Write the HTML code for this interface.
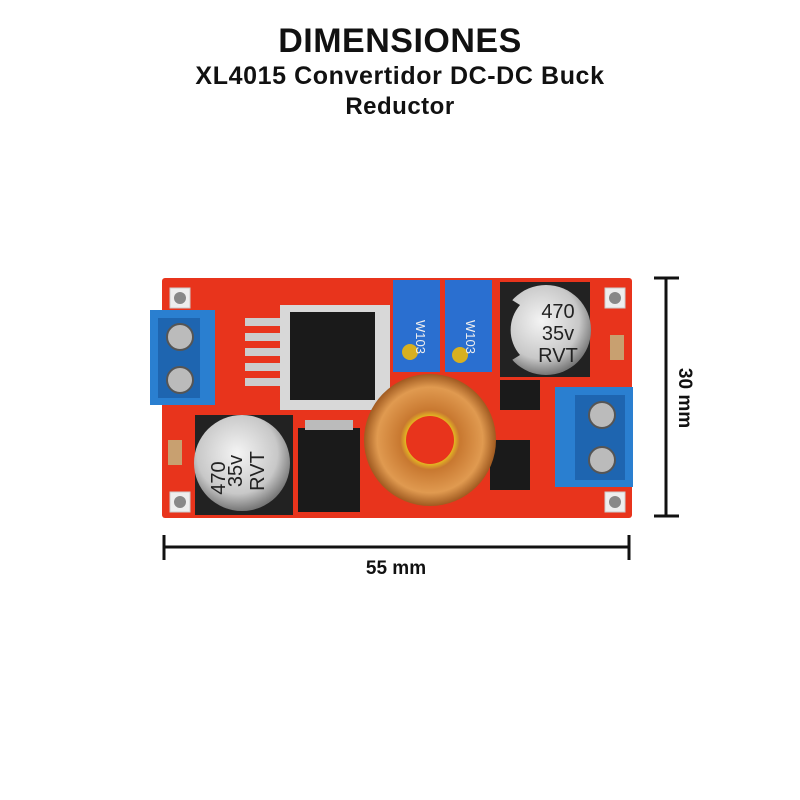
<!DOCTYPE html>
<html><head><style>
body{margin:0;width:800px;height:800px;background:#fff;position:relative;overflow:hidden;font-family:"Liberation Sans",sans-serif}
.t{position:absolute;left:0;width:800px;text-align:center;font-weight:bold;color:#111}
</style></head><body>
<div class="t" style="top:22px;font-size:34px;letter-spacing:0.5px">DIMENSIONES</div>
<div class="t" style="top:62px;font-size:25px;letter-spacing:0.6px">XL4015 Convertidor DC-DC Buck</div>
<div class="t" style="top:93px;font-size:24px;letter-spacing:0.5px">Reductor</div>
<svg width="800" height="800" style="position:absolute;left:0;top:0">
<defs>
<radialGradient id="cap" cx="45%" cy="40%" r="60%"><stop offset="0" stop-color="#f4f4f4"/><stop offset="0.7" stop-color="#c8c8c8"/><stop offset="1" stop-color="#777"/></radialGradient>
<radialGradient id="tor" cx="50%" cy="50%" r="50%"><stop offset="0.35" stop-color="#e8c020"/><stop offset="0.45" stop-color="#c87830"/><stop offset="0.8" stop-color="#e09a50"/><stop offset="1" stop-color="#a05a20"/></radialGradient>
</defs>
<rect x="162" y="278" width="470" height="240" fill="#e8341c" rx="3"/>
<g fill="#eee" stroke="#ccc"><rect x="170" y="288" width="20" height="20"/><rect x="605" y="288" width="20" height="20"/><rect x="170" y="492" width="20" height="20"/><rect x="605" y="492" width="20" height="20"/></g>
<g fill="#888"><circle cx="180" cy="298" r="6"/><circle cx="615" cy="298" r="6"/><circle cx="180" cy="502" r="6"/><circle cx="615" cy="502" r="6"/></g>
<rect x="150" y="310" width="65" height="95" fill="#2a7fd0"/>
<rect x="158" y="318" width="42" height="80" fill="#1e65b0"/>
<circle cx="180" cy="337" r="13" fill="#bbb" stroke="#555" stroke-width="2"/>
<circle cx="180" cy="380" r="13" fill="#bbb" stroke="#555" stroke-width="2"/>
<g fill="#ccc"><rect x="245" y="318" width="45" height="8"/><rect x="245" y="333" width="45" height="8"/><rect x="245" y="348" width="45" height="8"/><rect x="245" y="363" width="45" height="8"/><rect x="245" y="378" width="45" height="8"/></g>
<rect x="280" y="305" width="110" height="105" fill="#d8d8d8"/>
<rect x="290" y="312" width="85" height="88" fill="#1a1a1a"/>
<rect x="393" y="280" width="47" height="92" fill="#2a6fd0"/>
<rect x="445" y="280" width="47" height="92" fill="#2a6fd0"/>
<circle cx="410" cy="352" r="8" fill="#d8b020"/><circle cx="460" cy="355" r="8" fill="#d8b020"/>
<text x="416" y="320" font-size="13" fill="#eee" transform="rotate(90 416 320)">W103</text>
<text x="466" y="320" font-size="13" fill="#eee" transform="rotate(90 466 320)">W103</text>
<rect x="500" y="282" width="90" height="95" fill="#222"/>
<circle cx="546" cy="330" r="45" fill="url(#cap)"/>
<path d="M512 300 A45 45 0 0 0 512 360 L520 355 A38 38 0 0 1 520 305Z" fill="#222"/>
<text x="558" y="318" font-size="20" text-anchor="middle" fill="#222">470</text>
<text x="558" y="340" font-size="20" text-anchor="middle" fill="#222">35v</text>
<text x="558" y="362" font-size="20" text-anchor="middle" fill="#222">RVT</text>
<rect x="500" y="380" width="40" height="30" fill="#1a1a1a"/>
<rect x="490" y="440" width="40" height="50" fill="#1a1a1a"/>
<rect x="610" y="335" width="14" height="25" fill="#c8a070"/>
<rect x="168" y="440" width="14" height="25" fill="#c8a070"/>
<circle cx="430" cy="440" r="66" fill="url(#tor)"/>
<circle cx="430" cy="440" r="24" fill="#e8341c"/>
<rect x="555" y="387" width="78" height="100" fill="#2a7fd0"/>
<rect x="575" y="395" width="50" height="85" fill="#1e65b0"/>
<circle cx="602" cy="415" r="13" fill="#bbb" stroke="#555" stroke-width="2"/>
<circle cx="602" cy="460" r="13" fill="#bbb" stroke="#555" stroke-width="2"/>
<rect x="195" y="415" width="98" height="100" fill="#222"/>
<circle cx="242" cy="463" r="48" fill="url(#cap)"/>
<text x="212" y="465" font-size="20" fill="#222" transform="rotate(-90 225 465)" text-anchor="middle">470</text>
<text x="236" y="465" font-size="20" fill="#222" transform="rotate(-90 242 465)" text-anchor="middle">35v</text>
<text x="258" y="465" font-size="20" fill="#222" transform="rotate(-90 264 465)" text-anchor="middle">RVT</text>
<rect x="298" y="428" width="62" height="84" fill="#1a1a1a"/>
<rect x="305" y="420" width="48" height="10" fill="#bbb"/>
<g stroke="#111" stroke-width="3">
<line x1="163" y1="547" x2="630" y2="547"/><line x1="164" y1="535" x2="164" y2="560"/><line x1="629" y1="535" x2="629" y2="560"/>
<line x1="666" y1="277" x2="666" y2="517"/><line x1="654" y1="278" x2="679" y2="278"/><line x1="654" y1="516" x2="679" y2="516"/>
</g>
<text x="396" y="574" font-size="19" font-weight="bold" text-anchor="middle" fill="#111">55 mm</text>
<text x="0" y="0" font-size="19" font-weight="bold" text-anchor="middle" fill="#111" transform="translate(679 398) rotate(90)">30 mm</text>
</svg>
</body></html>
